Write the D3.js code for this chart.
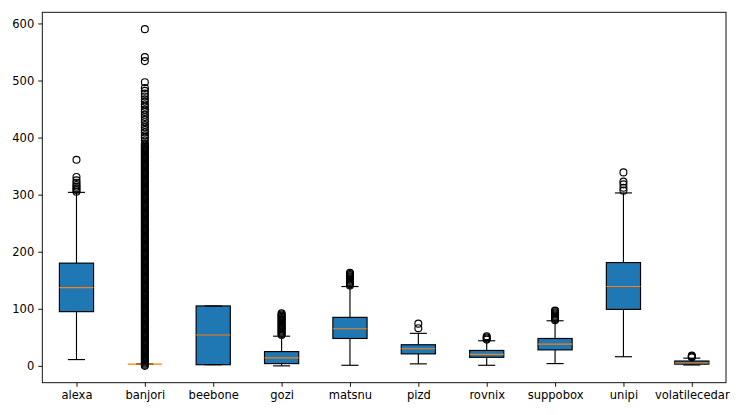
<!DOCTYPE html>
<html>
<head>
<meta charset="utf-8">
<script src="https://cdn.jsdelivr.net/npm/d3@7/dist/d3.min.js"></script>
<style>
  body { margin: 0; background: #fff; }
  svg { display: block; }
  text { font-family: "DejaVu Sans", sans-serif; }
</style>
</head>
<body>
<svg id="chart" width="747" height="415"></svg>
<script>
const categories = ['alexa', 'banjori', 'beebone', 'gozi', 'matsnu', 'pizd', 'rovnix', 'suppobox', 'unipi', 'volatilecedar']
const q1 = [95, 3, 2, 4, 48, 21, 15, 28, 99, 3]
const medians = [137, 3, 54, 14, 65, 30, 20, 38, 139, 5]
const q3 = [180, 3, 105, 25, 85, 37, 27, 48, 181, 8.5]
const whiskerLow = [11, 3, 2, 0, 1, 3.5, 1, 4, 16, 1.5]
const whiskerHigh = [304, 3, 105, 52, 139, 57, 44, 79, 303, 13.5]
const outliers = [
  [305, 308, 311, 314, 317, 321, 325, 331, 361],
  [0, 2, 4, 6, 8, 10, 12, 14, 16, 18, 20, 22, 24, 26, 28, 30, 32, 34, 36, 38, 40, 42, 44, 46, 48,
   50, 52, 54, 56, 58, 60, 62, 64, 66, 68, 70, 72, 74, 76, 78, 80, 82, 84, 86, 88, 90, 92, 94, 96, 98,
   100, 102, 104, 106, 108, 110, 112, 114, 116, 118, 120, 122, 124, 126, 128, 130, 132, 134, 136, 138,
   140, 142, 144, 146, 148, 150, 152, 154, 156, 158, 160, 162, 164, 166, 168, 170, 172, 174, 176, 178,
   180, 182, 184, 186, 188, 190, 192, 194, 196, 198, 200, 202, 204, 206, 208, 210, 212, 214, 216, 218,
   220, 222, 224, 226, 228, 230, 232, 234, 236, 238, 240, 242, 244, 246, 248, 250, 252, 254, 256, 258,
   260, 262, 264, 266, 268, 270, 272, 274, 276, 278, 280, 282, 284, 286, 288, 290, 292, 294, 296, 298,
   300, 302, 304, 306, 308, 310, 312, 314, 316, 318, 320, 322, 324, 326, 328, 330, 332, 334, 336, 338,
   340, 342, 344, 346, 348, 350, 352, 354, 356, 358, 360, 362, 364, 366, 368, 370, 372, 374, 376, 378,
   380, 382, 384, 386, 388, 390, 395, 400, 404, 409, 413, 418, 422, 427, 431, 436, 440, 445, 449, 454,
   458, 463, 467, 472, 477, 482, 487, 497, 534, 541, 590],
  [],
  [54, 56, 58, 60, 62, 64, 66, 68, 70, 72, 74, 76, 78, 80, 82, 84, 86, 88, 90, 92],
  [141, 143, 145, 147, 149, 151, 153, 155, 157, 159, 161, 163],
  [66, 74],
  [46, 48, 50, 52],
  [80, 82, 84, 86, 88, 90, 92, 94, 96, 97],
  [307, 312, 318, 323, 339],
  [15, 16, 17, 18]
]
const yTicks = [0, 100, 200, 300, 400, 500, 600]

// matplotlib figure at 83 dpi: 1pt = 83/72 px
const pt = 83 / 72
const margin = {left: 42.3, right: 21, top: 12.3, bottom: 32.3}
const width = 747, height = 415

const svg = d3.select('#chart')

const x = d3.scaleLinear()
  .domain([0.5, categories.length + 0.5])
  .range([margin.left, width - margin.right])
const y = d3.scaleLinear()
  .domain([-29.5, 619.5])
  .range([height - margin.bottom, margin.top])

const stats = categories.map((c, i) => ({
  name: c, pos: i + 1,
  q1: q1[i], med: medians[i], q3: q3[i],
  lo: whiskerLow[i], hi: whiskerHigh[i],
  fliers: outliers[i]
}))

const plot = svg.append('g')
const boxW = 0.5, capW = 0.25

// boxes (patches, drawn under the lines)
plot.selectAll('.box').data(stats).join('rect')
  .attr('class', 'box')
  .attr('x', d => x(d.pos - boxW / 2))
  .attr('width', d => x(d.pos + boxW / 2) - x(d.pos - boxW / 2))
  .attr('y', d => y(d.q3))
  .attr('height', d => y(d.q1) - y(d.q3))
  .attr('fill', '#1f77b4')
  .attr('stroke', '#000')
  .attr('stroke-width', pt)

// whiskers
plot.selectAll('.whisker-lo').data(stats).join('line')
  .attr('x1', d => x(d.pos)).attr('x2', d => x(d.pos))
  .attr('y1', d => y(d.q1)).attr('y2', d => y(d.lo))
  .attr('stroke', '#000').attr('stroke-width', pt)
plot.selectAll('.whisker-hi').data(stats).join('line')
  .attr('x1', d => x(d.pos)).attr('x2', d => x(d.pos))
  .attr('y1', d => y(d.q3)).attr('y2', d => y(d.hi))
  .attr('stroke', '#000').attr('stroke-width', pt)

// caps
for (const key of ['lo', 'hi']) {
  plot.selectAll('.cap-' + key).data(stats).join('line')
    .attr('x1', d => x(d.pos - capW / 2)).attr('x2', d => x(d.pos + capW / 2))
    .attr('y1', d => y(d[key])).attr('y2', d => y(d[key]))
    .attr('stroke', '#000').attr('stroke-width', pt)
}

// medians
plot.selectAll('.median').data(stats).join('line')
  .attr('x1', d => x(d.pos - boxW / 2)).attr('x2', d => x(d.pos + boxW / 2))
  .attr('y1', d => y(d.med)).attr('y2', d => y(d.med))
  .attr('stroke', '#ff7f0e').attr('stroke-width', pt)

// fliers
plot.selectAll('.fliers').data(stats).join('g')
  .selectAll('circle').data(d => d.fliers.map(v => ({pos: d.pos, v}))).join('circle')
  .attr('cx', d => x(d.pos))
  .attr('cy', d => y(d.v))
  .attr('r', 3 * pt)
  .attr('fill', 'none')
  .attr('stroke', '#000')
  .attr('stroke-width', pt)

// axes
const xAxis = d3.axisBottom(x)
  .tickValues(stats.map(d => d.pos))
  .tickFormat((d, i) => categories[i])
  .tickSize(3.5 * pt).tickPadding(3.5 * pt)
const yAxis = d3.axisLeft(y)
  .tickValues(yTicks)
  .tickSize(3.5 * pt).tickPadding(3.5 * pt)

const gx = svg.append('g')
  .attr('transform', `translate(0,${height - margin.bottom})`)
  .call(xAxis)
const gy = svg.append('g')
  .attr('transform', `translate(${margin.left},0)`)
  .call(yAxis)

for (const g of [gx, gy]) {
  g.select('.domain').remove()
  g.selectAll('.tick line').attr('stroke', '#000').attr('stroke-width', 0.8 * pt)
  g.selectAll('.tick text').attr('fill', '#000').style('font-size', (10 * pt) + 'px')
    .style('font-family', '"DejaVu Sans", sans-serif')
}

// frame
svg.append('rect')
  .attr('x', margin.left).attr('y', margin.top)
  .attr('width', width - margin.left - margin.right)
  .attr('height', height - margin.top - margin.bottom)
  .attr('fill', 'none')
  .attr('stroke', '#000')
  .attr('stroke-width', 0.8 * pt)
</script>
</body>
</html>
